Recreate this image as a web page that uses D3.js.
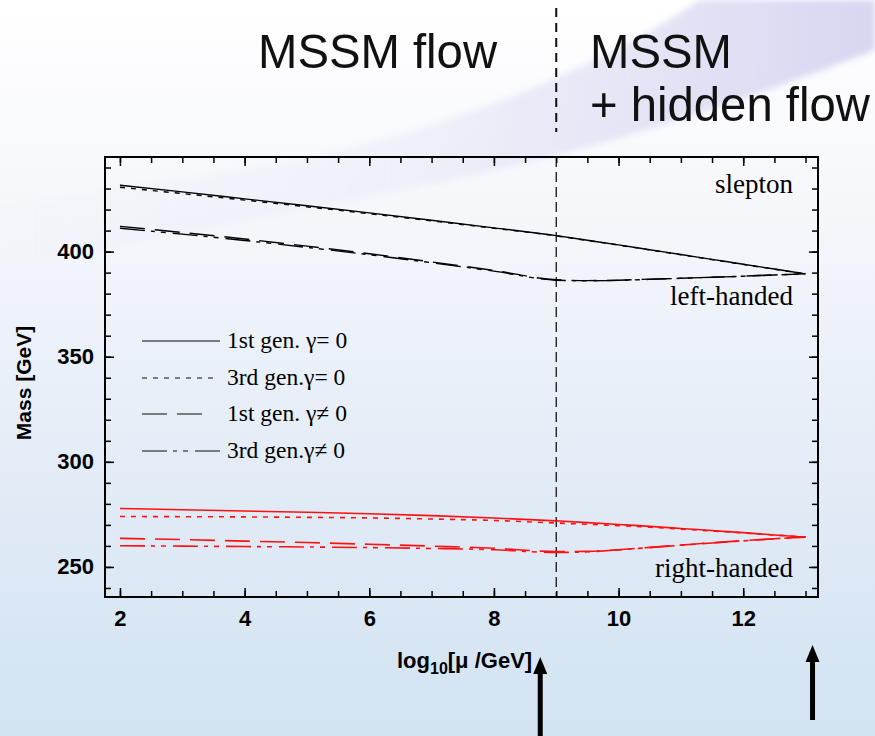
<!DOCTYPE html>
<html><head><meta charset="utf-8">
<script src="https://cdn.jsdelivr.net/npm/d3@7"></script>
<style>
html,body{margin:0;padding:0;}
svg{display:block;}
</style></head>
<body>
<svg id="c" width="875" height="736"></svg>
<script>
// ---- data ----
const muGrid = [2,3,4,5,6,7,8,9,9.5,10,10.5,11,11.5,12,12.5,13];
const leftGen1Gamma0   = [431.6,428.4,425.1,421.8,418.4,414.9,411.3,407.6,405.4,403.2,400.9,398.6,396.3,394.0,391.7,389.4];
const leftGen3Gamma0   = [430.6,427.6,424.5,421.3,418.0,414.6,411.1,407.5,405.3,403.1,400.8,398.5,396.2,393.9,391.6,389.4];
const leftGen1GammaNZ  = [412.0,409.1,406.0,402.6,399.0,395.1,391.0,386.6,386.2,386.4,386.9,387.3,387.8,388.3,388.9,389.4];
const leftGen3GammaNZ  = [411.1,408.3,405.3,402.0,398.5,394.7,390.7,386.4,386.1,386.3,386.8,387.3,387.8,388.3,388.9,389.4];
const rightGen1Gamma0  = [277.8,277.2,276.6,276.0,275.3,274.4,273.3,271.9,271.1,270.2,269.3,268.3,267.3,266.3,265.2,264.2];
const rightGen3Gamma0  = [274.0,273.9,273.8,273.6,273.3,272.8,272.1,270.9,270.3,269.6,268.9,268.0,267.1,266.2,265.2,264.2];
const rightGen1GammaNZ = [263.6,263.0,262.3,261.6,260.8,259.9,258.9,257.3,257.4,258.2,259.3,260.4,261.5,262.5,263.4,264.2];
const rightGen3GammaNZ = [260.1,259.9,259.7,259.5,259.2,258.8,258.2,256.9,257.2,258.1,259.2,260.3,261.4,262.4,263.4,264.2];
const xTickLabels = [2,4,6,8,10,12];
const yTickLabels = [250,300,350,400];
const legendLabels = ["1st gen. \u03b3= 0","3rd gen.\u03b3= 0","1st gen. \u03b3\u2260 0","3rd gen.\u03b3\u2260 0"];
const boundaryMu = 9;
const arrowMu = [9, 13];

// ---- setup ----
const svg = d3.select("#c");
const W = 875, H = 736;
const defs = svg.append("defs");
const bg = defs.append("linearGradient").attr("id","bg").attr("x1",0).attr("y1",0).attr("x2",0).attr("y2",1);
bg.append("stop").attr("offset","0%").attr("stop-color","#ffffff");
bg.append("stop").attr("offset","25%").attr("stop-color","#f7f8fc");
bg.append("stop").attr("offset","60%").attr("stop-color","#e5edf7");
bg.append("stop").attr("offset","100%").attr("stop-color","#d2e3f2");
const sw = defs.append("linearGradient").attr("id","sw").attr("x1",0).attr("y1",0).attr("x2",1).attr("y2",0);
sw.append("stop").attr("offset","0%").attr("stop-color","#e2e2f4").attr("stop-opacity",0.05);
sw.append("stop").attr("offset","45%").attr("stop-color","#e0e0f4").attr("stop-opacity",0.35);
sw.append("stop").attr("offset","75%").attr("stop-color","#dcdcf3").attr("stop-opacity",0.75);
sw.append("stop").attr("offset","100%").attr("stop-color","#d6d6f1").attr("stop-opacity",1);
const blur = defs.append("filter").attr("id","bl").attr("x","-10%").attr("y","-10%").attr("width","120%").attr("height","120%");
blur.append("feGaussianBlur").attr("stdDeviation",3);

svg.append("rect").attr("width",W).attr("height",H).attr("fill","url(#bg)");
svg.append("path")
  .attr("d","M700,0 C610,60 480,120 300,160 C180,180 80,195 0,205 L0,270 C150,240 300,210 450,180 C600,150 760,95 875,50 L875,0 Z")
  .attr("fill","url(#sw)").attr("filter","url(#bl)");

const x = d3.scaleLinear().domain([1.76,13.2]).range([105,818]);
const y = d3.scaleLinear().domain([235.7,445]).range([597,157]);
const [x0,x1] = x.range(), [y0,y1] = y.range();

// header
const hdr = svg.append("g").attr("font-family","'Liberation Sans', Arial, sans-serif").attr("font-size",49).attr("fill","#111");
function htext(tx, ty, s){
  hdr.append("text").attr("transform",`translate(${tx},${ty}) scale(0.965,1)`).text(s);
}
htext(258,68,"MSSM flow");
htext(590,68,"MSSM");
htext(590,121,"+ hidden flow");
svg.append("line").attr("x1",x(boundaryMu)).attr("x2",x(boundaryMu)).attr("y1",8).attr("y2",132)
  .attr("stroke","#111").attr("stroke-width",2).attr("stroke-dasharray","9,6");

// axes
function mk(axis, g, ticks, size, labels){
  const a = axis.tickValues(ticks).tickSizeInner(size).tickSizeOuter(0).tickPadding(10);
  if(!labels) a.tickFormat("");
  g.call(a);
  g.select(".domain").remove();
  g.selectAll(".tick line").attr("stroke","#000").attr("stroke-width",1.5);
}
const xMinor = d3.range(2,13.01,0.5), xMajor = xTickLabels;
const yMinor = d3.range(240,441,10);
const gb = svg.append("g").attr("transform",`translate(0,${y0})`);
mk(d3.axisBottom(x), gb.append("g"), xMinor, -6, false);
mk(d3.axisBottom(x), gb.append("g"), xMajor, -9, true);
const gt = svg.append("g").attr("transform",`translate(0,${y1})`);
mk(d3.axisTop(x), gt.append("g"), xMinor, -6, false);
mk(d3.axisTop(x), gt.append("g"), xMajor, -9, false);
const gl = svg.append("g").attr("transform",`translate(${x0},0)`);
mk(d3.axisLeft(y), gl.append("g"), yMinor, -6, false);
mk(d3.axisLeft(y), gl.append("g"), yTickLabels, -9, true);
const gr = svg.append("g").attr("transform",`translate(${x1},0)`);
mk(d3.axisRight(y), gr.append("g"), yMinor, -6, false);
mk(d3.axisRight(y), gr.append("g"), yTickLabels, -9, false);
svg.selectAll(".tick text").attr("font-family","'Liberation Sans', Arial, sans-serif")
  .attr("font-size",22).attr("font-weight","bold").attr("fill","#000");
gb.selectAll(".tick text").attr("dy","0.85em");
gl.selectAll(".tick text").attr("dx","-1");

svg.append("rect").attr("x",x0).attr("y",y1).attr("width",x1-x0).attr("height",y0-y1)
  .attr("fill","none").attr("stroke","#000").attr("stroke-width",2);

// boundary line in plot
svg.append("line").attr("x1",x(boundaryMu)).attr("x2",x(boundaryMu)).attr("y1",y1).attr("y2",y0)
  .attr("stroke","#000").attr("stroke-width",1.2).attr("stroke-dasharray","10,5");

// curves
const dashes = [null, "5,6", "25,10", "25,6,4,6,5,7"];
const line = d3.line().x((d,i)=>x(muGrid[i])).y(d=>y(d)).curve(d3.curveMonotoneX);
const blackSeries = [leftGen1Gamma0,leftGen3Gamma0,leftGen1GammaNZ,leftGen3GammaNZ];
const redSeries = [rightGen1Gamma0,rightGen3Gamma0,rightGen1GammaNZ,rightGen3GammaNZ];
blackSeries.forEach((s,i)=>{
  svg.append("path").attr("d",line(s)).attr("fill","none").attr("stroke","#000")
    .attr("stroke-width",1.4).attr("stroke-dasharray",dashes[i]);
});
redSeries.forEach((s,i)=>{
  svg.append("path").attr("d",line(s)).attr("fill","none").attr("stroke","#ff1010")
    .attr("stroke-width",1.6).attr("stroke-dasharray",dashes[i]);
});

// legend
const serif = "'Liberation Serif','Times New Roman',serif";
const legY = [341,378,414,451];
const legX2 = [220,215,208,222];
legendLabels.forEach((t,i)=>{
  svg.append("line").attr("x1",142).attr("x2",legX2[i]).attr("y1",legY[i]).attr("y2",legY[i])
    .attr("stroke","#555").attr("stroke-width",1.5).attr("stroke-dasharray",dashes[i]);
  svg.append("text").attr("x",227).attr("y",legY[i]+7).attr("font-family",serif).attr("font-size",23.5)
    .attr("fill","#000").text(t);
});

// annotations
[["slepton",193],["left-handed",305],["right-handed",577]].forEach(([t,ty])=>{
  svg.append("text").attr("x",793).attr("y",ty).attr("text-anchor","end").attr("font-family",serif)
    .attr("font-size",27).attr("fill","#000").text(t);
});

// axis titles
svg.append("text").attr("transform","translate(31,383) rotate(-90)").attr("text-anchor","middle")
  .attr("font-family","'Liberation Sans', Arial, sans-serif").attr("font-size",21).attr("font-weight","bold")
  .attr("fill","#000").text("Mass [GeV]");
const xl = svg.append("text").attr("x",397).attr("y",668).attr("font-family","'Liberation Sans', Arial, sans-serif")
  .attr("font-size",22).attr("font-weight","bold").attr("fill","#000");
xl.append("tspan").text("log");
xl.append("tspan").attr("font-size",16).attr("dy",6).text("10");
xl.append("tspan").attr("dy",-6).text("[\u03bc /GeV]");

// arrows
const arrowTop = [657, 645], arrowBot = [736, 720];
arrowMu.forEach((m,i)=>{
  const ax = i===0 ? x(m)-16 : x(m)+7;
  svg.append("line").attr("x1",ax).attr("x2",ax).attr("y1",arrowBot[i]).attr("y2",arrowTop[i]+12)
    .attr("stroke","#000").attr("stroke-width",5);
  svg.append("path").attr("d",`M${ax},${arrowTop[i]} L${ax-7},${arrowTop[i]+17} L${ax+7},${arrowTop[i]+17} Z`).attr("fill","#000");
});
</script>
</body></html>
